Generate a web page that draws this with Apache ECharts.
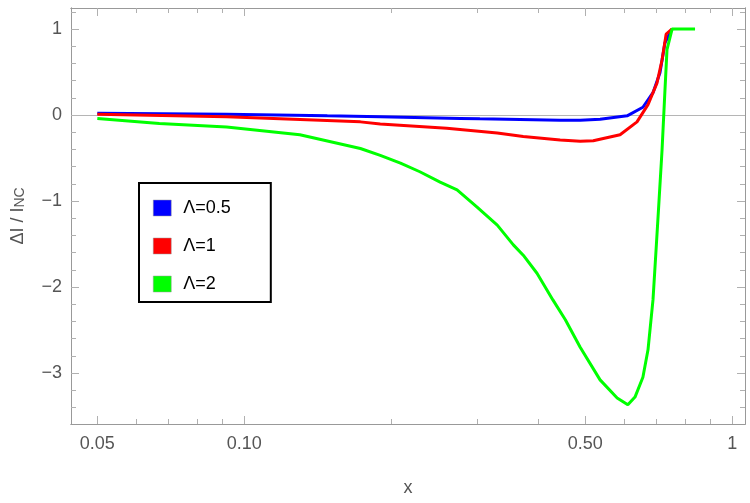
<!DOCTYPE html>
<html lang="en">
<head>
<meta charset="UTF-8">
<script src="https://cdn.jsdelivr.net/npm/echarts@6/dist/echarts.min.js"></script>
<title>ΔI / INC</title>
<style>html,body{margin:0;padding:0;background:#fff;}</style>
</head>
<body>
<div id="main" style="width:750px;height:503px;"></div>
<script type="text/javascript">
// values
var lam05X = [0.05, 0.092, 0.148, 0.19, 0.277, 0.304, 0.444, 0.488, 0.536, 0.609, 0.656, 0.688, 0.711, 0.728, 0.753];
var lam05Y = [0.02, 0.01, -0.01, -0.02, -0.04, -0.045, -0.06, -0.06, -0.05, -0.01, 0.09, 0.26, 0.49, 0.84, 1.0];

var lam1X = [0.05, 0.092, 0.173, 0.19, 0.26, 0.33, 0.373, 0.444, 0.488, 0.519, 0.589, 0.638, 0.672, 0.701, 0.718, 0.732, 0.753];
var lam1Y = [0.01, -0.02, -0.08, -0.105, -0.155, -0.21, -0.25, -0.29, -0.305, -0.30, -0.23, -0.08, 0.12, 0.37, 0.64, 0.94, 1.0];

var lam2X = [0.05, 0.067, 0.092, 0.130, 0.173, 0.190, 0.209, 0.229, 0.252, 0.273, 0.300, 0.330, 0.356, 0.373, 0.398, 0.429, 0.455,
             0.488, 0.536, 0.581, 0.611, 0.632, 0.656, 0.672, 0.688, 0.698, 0.708, 0.718, 0.728, 0.735, 0.753, 0.839];
var lam2Y = [-0.04, -0.10, -0.14, -0.23, -0.39, -0.47, -0.56, -0.66, -0.78, -0.87, -1.07, -1.28, -1.51, -1.63, -1.84, -2.15, -2.38,
             -2.70, -3.08, -3.29, -3.37, -3.28, -3.05, -2.73, -2.15, -1.57, -0.99, -0.41, 0.29, 0.76, 1.0, 1.0];

var seriesNames = ['Λ=0.5', 'Λ=1', 'Λ=2'];
var seriesColors = ['#0000ff', '#ff0000', '#00ff00'];

var xMajorTicks = [0.05, 0.1, 0.5, 1];
var xTickLabels = ['0.05', '0.10', '0.50', '1'];
var xMinorTicks = [0.06, 0.07, 0.08, 0.09, 0.2, 0.3, 0.4, 0.6, 0.7, 0.8, 0.9];
var yMajorTicks = [-3, -2, -1, 0, 1];

var xMin = 0.04416, xMax = 1.062;
var yMin = -3.593, yMax = 1.244;

function lg(v) { return Math.log10(v); }
function toPoints(xs, ys) {
    return xs.map(function (x, i) { return [lg(x), ys[i]]; });
}

var yMinorTicks = [];
for (var k = -18; k <= 6; k++) {
    if (k % 5 !== 0) yMinorTicks.push(k / 5);
}

var frameColor = '#999999';
var labelStyle = { color: '#555', fontSize: 18, fontFamily: 'Liberation Sans, Arial, sans-serif' };

function xAxisDef(pos, major, showLabels) {
    var ticks = (major ? xMajorTicks : xMinorTicks).map(lg);
    return {
        type: 'value', position: pos, min: lg(xMin), max: lg(xMax),
        axisLine: { show: true, onZero: false, lineStyle: { color: frameColor, width: 1 } },
        axisTick: { show: true, inside: true, length: major ? 8 : 5, customValues: ticks,
                    lineStyle: { color: '#b0b0b0', width: 1 } },
        axisLabel: {
            show: showLabels, margin: 11, customValues: xMajorTicks.map(lg),
            color: labelStyle.color, fontSize: labelStyle.fontSize, fontFamily: labelStyle.fontFamily,
            formatter: function (v) {
                for (var i = 0; i < xMajorTicks.length; i++) {
                    if (Math.abs(lg(xMajorTicks[i]) - v) < 1e-6) return xTickLabels[i];
                }
                return '';
            }
        },
        splitLine: { show: false },
        name: showLabels ? 'x' : '', nameLocation: 'middle', nameGap: 55,
        nameTextStyle: { color: labelStyle.color, fontSize: 18, fontFamily: labelStyle.fontFamily }
    };
}

function yAxisDef(pos, major, showLabels) {
    return {
        type: 'value', position: pos, min: yMin, max: yMax,
        axisLine: { show: true, onZero: false, lineStyle: { color: frameColor, width: 1 } },
        axisTick: { show: true, inside: true, length: major ? 8 : 5,
                    customValues: major ? yMajorTicks : yMinorTicks,
                    lineStyle: { color: '#b0b0b0', width: 1 } },
        axisLabel: {
            show: showLabels, margin: 9, customValues: yMajorTicks,
            color: labelStyle.color, fontSize: labelStyle.fontSize, fontFamily: labelStyle.fontFamily,
            formatter: function (v) { return v < 0 ? '\u2212' + Math.abs(v) : String(v); }
        },
        splitLine: { show: false },
        name: showLabels ? '{m|ΔI / I}{s|NC}' : '', nameLocation: 'middle', nameGap: 44,
        nameTextStyle: {
            rich: {
                m: { color: labelStyle.color, fontSize: 18, fontFamily: labelStyle.fontFamily },
                s: { color: labelStyle.color, fontSize: 14, fontFamily: labelStyle.fontFamily, verticalAlign: 'bottom', padding: [4, 0, 0, 0] }
            }
        }
    };
}

var myChart = echarts.init(document.getElementById('main'));

var pointsList = [toPoints(lam05X, lam05Y), toPoints(lam1X, lam1Y), toPoints(lam2X, lam2Y)];
var series = [];
for (var s = 0; s < 3; s++) {
    var item = {
        name: seriesNames[s],
        type: 'line',
        xAxisIndex: 0, yAxisIndex: 0,
        data: pointsList[s],
        showSymbol: false,
        symbol: 'none',
        lineStyle: { color: seriesColors[s], width: 3 },
        itemStyle: { color: seriesColors[s] },
        animation: false
    };
    if (s === 0) {
        item.markLine = {
            silent: true, symbol: 'none', label: { show: false },
            lineStyle: { color: '#b5b5b5', width: 1, type: 'solid' },
            data: [{ yAxis: 0 }],
            z: 1
        };
    }
    series.push(item);
}

var option = {
    backgroundColor: '#fff',
    animation: false,
    grid: { left: 71, right: 5, top: 8, bottom: 79 },
    legend: {
        orient: 'vertical',
        left: 139, top: 183,
        data: seriesNames,
        icon: 'rect',
        itemWidth: 18, itemHeight: 16, itemGap: 20,
        backgroundColor: '#fff',
        borderColor: '#000', borderWidth: 2,
        padding: [16, 40, 9, 14],
        textStyle: { color: '#000', fontSize: 18, fontFamily: 'Liberation Sans, Arial, sans-serif', padding: [0, 0, 0, 7] },
        itemStyle: { borderColor: '#999', borderWidth: 0.5 }
    },
    xAxis: [
        xAxisDef('bottom', true, true),
        xAxisDef('bottom', false, false),
        xAxisDef('top', true, false),
        xAxisDef('top', false, false)
    ],
    yAxis: [
        yAxisDef('left', true, true),
        yAxisDef('left', false, false),
        yAxisDef('right', true, false),
        yAxisDef('right', false, false)
    ],
    series: series
};
myChart.setOption(option);
</script>
</body>
</html>
